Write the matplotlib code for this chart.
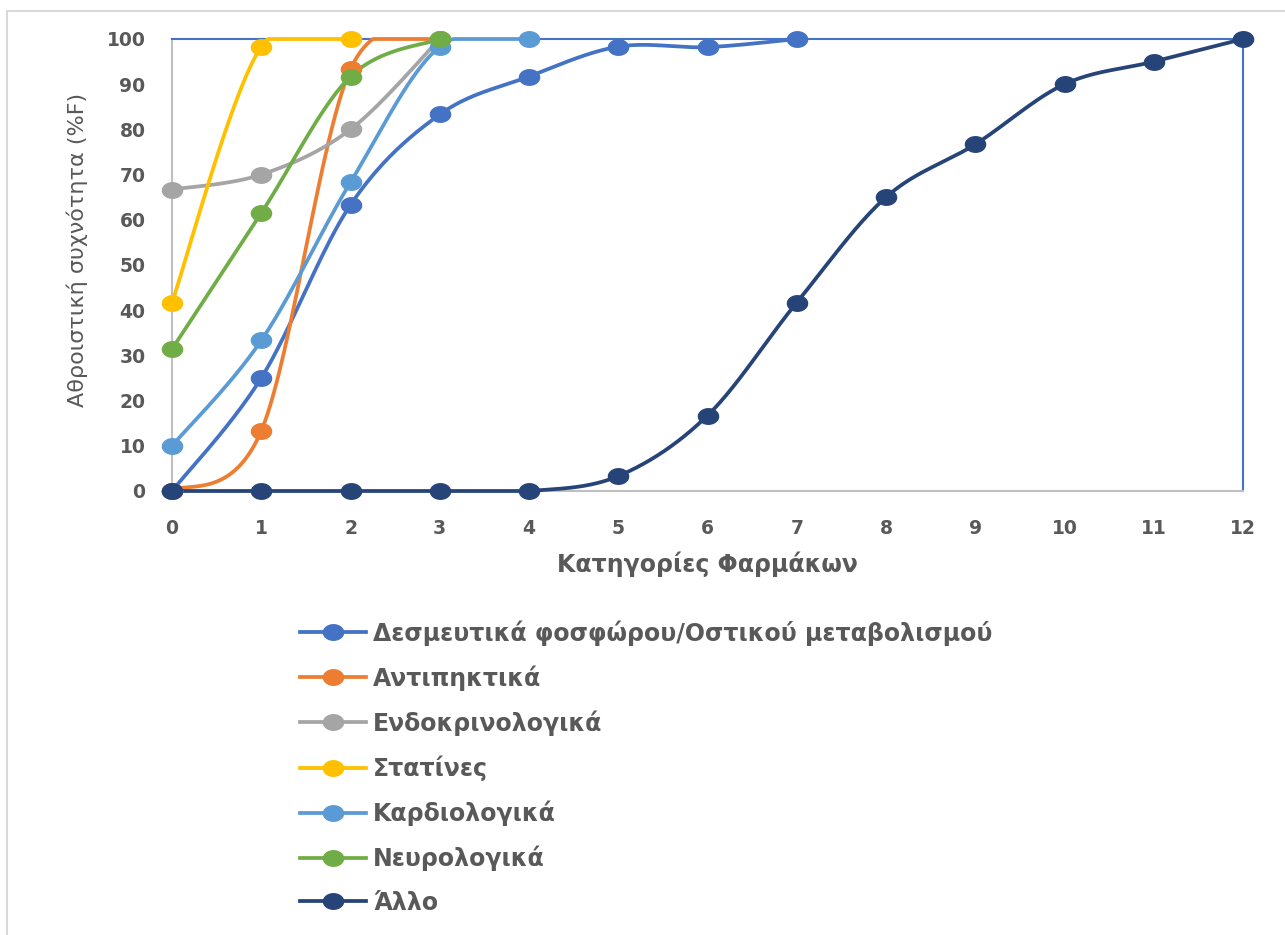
import numpy as np
import matplotlib
matplotlib.use("Agg")
import matplotlib.pyplot as plt
from matplotlib.patches import Rectangle
from matplotlib.path import Path

# Cumulative frequency (%F) by number of drug categories
series_names = [
    "Δεσμευτικά φοσφώρου/Οστικού μεταβολισμού",
    "Αντιπηκτικά",
    "Ενδοκρινολογικά",
    "Στατίνες",
    "Καρδιολογικά",
    "Νευρολογικά",
    "Άλλο",
]
x_binders = [0, 1, 2, 3, 4, 5, 6, 7]
y_binders = [0, 25.0, 63.3, 83.3, 91.7, 98.3, 98.2, 100]
x_anticoag = [0, 1, 2, 3]
y_anticoag = [0, 13.3, 93.3, 100]
x_endo = [0, 1, 2, 3]
y_endo = [66.7, 70.0, 80.0, 100]
x_statins = [0, 1, 2]
y_statins = [41.7, 98.3, 100]
x_cardio = [0, 1, 2, 3, 4]
y_cardio = [10.0, 33.3, 68.3, 98.3, 100]
x_neuro = [0, 1, 2, 3]
y_neuro = [31.4, 61.5, 91.7, 100]
x_other = [0, 1, 2, 3, 4, 5, 6, 7, 8, 9, 10, 11, 12]
y_other = [0, 0, 0, 0, 0, 3.3, 16.7, 41.7, 65.0, 76.7, 90.0, 95.0, 100]

x_ticks = list(range(0, 13))
y_ticks = list(range(0, 101, 10))

colors = ["#4472C4", "#ED7D31", "#A5A5A5", "#FFC000", "#5B9BD5", "#70AD47", "#264478"]
xs_all = [x_binders, x_anticoag, x_endo, x_statins, x_cardio, x_neuro, x_other]
ys_all = [y_binders, y_anticoag, y_endo, y_statins, y_cardio, y_neuro, y_other]


def smooth(xs, ys, n=40):
    """Cubic Bezier smoothing through every point (Catmull-Rom style)."""
    p = np.column_stack([xs, ys]).astype(float)
    if len(p) < 3:
        return p[:, 0], p[:, 1]
    ext = np.vstack([p[0], p, p[-1]])
    out = []
    t = np.linspace(0, 1, n)[:, None]
    for i in range(1, len(ext) - 2):
        p0, p1, p2, p3 = ext[i - 1], ext[i], ext[i + 1], ext[i + 2]
        c1 = p1 + (p2 - p0) / 6.0
        c2 = p2 - (p3 - p1) / 6.0
        seg = ((1 - t) ** 3) * p1 + 3 * ((1 - t) ** 2) * t * c1 + 3 * (1 - t) * t ** 2 * c2 + t ** 3 * p2
        out.append(seg if i == 1 else seg[1:])
    c = np.vstack(out)
    return c[:, 0], np.clip(c[:, 1], 0, 100)


# slightly wide elliptical dot marker
theta = np.linspace(0, 2 * np.pi, 60)
dot = Path(np.column_stack([1.3 * np.cos(theta), np.sin(theta)]), closed=True)

plt.rcParams["font.family"] = ["DejaVu Sans"]
W, H = 1285, 935
fig = plt.figure(figsize=(W / 100, H / 100), dpi=100)

# outer chart border
fig.patches.append(Rectangle((7 / W, -0.05), 1.1, 1 - 11 / H + 0.05, transform=fig.transFigure,
                             fill=False, edgecolor="#D9D9D9", linewidth=1.5, zorder=0))

ax = fig.add_axes([172 / W, 1 - 491 / H, (1243 - 172) / W, (491 - 39) / H])
ax.set_xlim(0, 12)
ax.set_ylim(0, 100)

handles = []
for name, c, xs, ys in zip(series_names, colors, xs_all, ys_all):
    sx, sy = smooth(xs, ys)
    ax.plot(sx, sy, color=c, linewidth=2.7, solid_capstyle="round", clip_on=False, zorder=3)
    ax.plot(xs, ys, linestyle="none", marker=dot, markersize=14.5, color=c, clip_on=False, zorder=4)
    h, = ax.plot([], [], color=c, linewidth=2.7, marker=dot, markersize=14.5, label=name)
    handles.append(h)

ax.set_xticks(x_ticks)
ax.set_yticks(y_ticks)
ax.tick_params(length=0, labelsize=13.5, labelcolor="#595959")
ax.tick_params(axis="x", pad=20)
ax.tick_params(axis="y", pad=19)
for lab in ax.get_xticklabels() + ax.get_yticklabels():
    lab.set_fontweight("bold")

for s in ["left", "bottom"]:
    ax.spines[s].set_color("#BFBFBF")
    ax.spines[s].set_linewidth(1.5)
for s in ["top", "right"]:
    ax.spines[s].set_color("#4472C4")
    ax.spines[s].set_linewidth(1.5)

ax.set_xlabel("Κατηγορίες Φαρμάκων", fontsize=17, fontweight="bold", color="#595959", labelpad=10)
ax.set_ylabel("Αθροιστική συχνότητα (%F)", fontsize=16, color="#595959")
ax.yaxis.set_label_coords((88 - 172) / 1071, (491 - 250) / 452)

leg = fig.legend(handles=handles, loc="upper left", bbox_to_anchor=(300 / W, 1 - 620 / H),
                 frameon=False, labelspacing=0.83, handlelength=2.8, borderpad=0,
                 borderaxespad=0, handletextpad=0.3, prop={"weight": "bold", "size": 17})
for t in leg.get_texts():
    t.set_color("#595959")

fig.savefig("out.png", dpi=100)
